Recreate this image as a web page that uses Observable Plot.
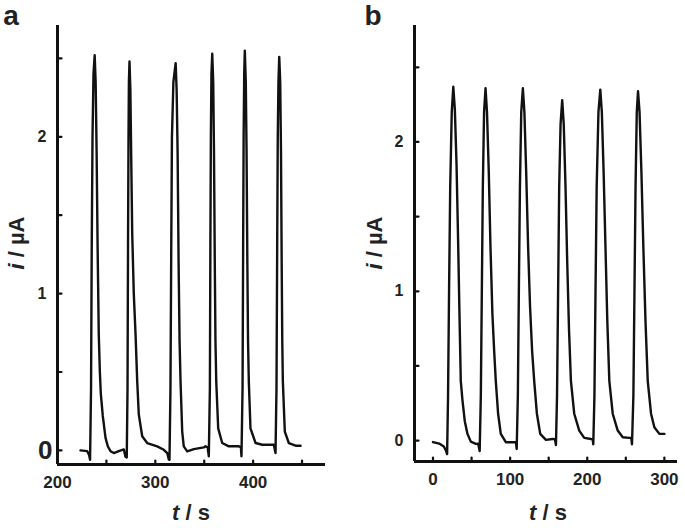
<!DOCTYPE html>
<html><head><meta charset="utf-8">
<script src="https://cdn.jsdelivr.net/npm/d3@7"></script>
<script src="https://cdn.jsdelivr.net/npm/@observablehq/plot@0.6"></script>
<style>
body{margin:0;background:#fff;}
#wrap{position:relative;width:685px;height:528px;overflow:hidden;font-family:"Liberation Sans",Arial,sans-serif;color:#222;}
.panel{position:absolute;top:0;}
.t{position:absolute;font-weight:bold;white-space:nowrap;line-height:1;color:#222;}
.c{transform:translate(-50%,-50%);}
.r{transform:translate(-50%,-50%) rotate(-90deg);}
</style></head><body><div id="wrap"></div>
<script>
// Panel a: time (s) and current (µA)
const timeA = [223.5,230.4,232.3,233.3,
 234.3,235.0,235.8,236.8,238.0,239.0,240.0,241.0,242.2,243.3,244.3,246.3,249.1,251.5,254.2,257.6,262.7,267.8,269.5,270.8,
 271.6,272.1,272.6,273.0,273.6,274.5,275.3,276.4,278.0,279.8,281.5,283.1,286.6,291.7,301.9,308.7,312.2,313.8,314.5,
 315.5,316.3,317.0,318.5,320.8,321.8,322.8,323.8,324.8,325.8,327.5,329.1,332.6,339.4,349.6,351.3,353.5,354.7,
 355.8,356.3,356.8,357.4,358.2,359.2,360.0,360.8,361.5,362.3,364.3,368.4,375.2,385.4,387.5,388.1,
 389.2,389.8,390.3,390.9,391.5,392.5,393.3,394.1,394.8,395.6,397.3,402.5,409.3,421.2,422.9,
 423.9,424.6,425.2,425.9,426.7,427.7,428.5,429.2,429.8,430.4,432.4,436.5,443.4,448.5];
const currentA = [0.00,-0.005,-0.03,-0.06,
 0.4,1.3,2.0,2.4,2.52,2.35,1.9,1.3,0.74,0.5,0.36,0.22,0.08,0.025,-0.005,-0.017,-0.005,0.006,-0.04,-0.045,
 0.4,1.3,2.0,2.35,2.48,2.3,1.9,1.38,1.0,0.74,0.44,0.23,0.09,0.047,0.026,0.004,-0.017,-0.058,-0.06,
 0.4,1.3,2.0,2.35,2.47,2.3,1.9,1.2,0.7,0.44,0.12,0.026,-0.006,0.008,0.019,0.026,0.02,-0.038,
 0.4,1.3,2.0,2.4,2.53,2.35,1.9,1.2,0.7,0.44,0.14,0.047,0.026,0.026,0.02,-0.038,
 0.4,1.3,2.0,2.4,2.55,2.35,1.9,1.2,0.7,0.44,0.14,0.047,0.036,0.036,-0.017,
 0.4,1.3,2.0,2.35,2.51,2.35,1.9,1.2,0.7,0.44,0.12,0.047,0.03,0.03];

// Panel b: time (s) and current (µA)
const timeB = [0,8,14,17,18.3,
 19.5,20.8,22.3,24.3,26.3,28.3,30.5,32.5,34.3,36.0,38.2,41.2,44.7,49,55.5,58.5,60.5,
 62.0,63.3,64.6,66.2,68.1,70.0,72.3,74.5,77,79.3,81.4,84.4,87.9,94.4,105.2,107.5,108.5,
 110.0,111.3,112.7,114.4,116.5,118.5,120.8,123.3,125.8,128.5,131.2,134.7,139,146.4,155,158,159.4,
 160.8,162.2,163.6,165.4,167.5,169.5,171.8,174.0,176.3,178.8,183.1,189.6,196.1,204.8,207,207.8,
 209.3,210.7,212.2,214.5,216.9,218.9,221.2,223.6,226,228.6,233,239.5,246,254.6,257,258,
 259.8,261.2,262.6,264.2,265.8,267.8,270.2,272.7,275.5,278.4,282.7,287,293.5,300];
const currentB = [-0.01,-0.02,-0.04,-0.07,-0.09,
 0.3,1.0,1.7,2.2,2.37,2.22,1.85,1.35,0.85,0.40,0.27,0.13,0.045,-0.007,-0.022,-0.02,-0.07,
 0.3,1.0,1.7,2.2,2.36,2.2,1.8,1.3,0.85,0.6,0.40,0.18,0.045,-0.011,-0.011,-0.01,-0.056,
 0.3,1.0,1.7,2.2,2.36,2.2,1.8,1.3,0.9,0.6,0.40,0.18,0.045,0.005,0.011,0.01,-0.03,
 0.3,1.0,1.7,2.12,2.28,2.12,1.7,1.2,0.75,0.40,0.18,0.067,0.018,0.011,0.01,-0.025,
 0.3,1.0,1.7,2.2,2.35,2.2,1.8,1.3,0.8,0.40,0.18,0.067,0.022,0.018,0.02,-0.025,
 0.3,1.0,1.7,2.2,2.34,2.2,1.8,1.3,0.8,0.40,0.18,0.089,0.045,0.045];

// Axes
const xDomainA = [200, 474];
const yDomainA = [-0.09, 2.71];
const xDomainB = [-24, 317];
const yDomainB = [-0.14, 2.78];
const xLabelTicksA = [200, 300, 400];
const xMinorTicksA = [250, 300, 350, 400, 450];
const xLabelTicksB = [0, 100, 200, 300];
const xMinorTicksB = [0, 50, 100, 150, 200, 250, 300];
const yTicks = [0, 0.5, 1, 1.5, 2, 2.5];
const yLabelTicks = [1, 2];

const ink = "#111";
const font = "Liberation Sans, Arial, sans-serif";
const fmt = d3.format("d");
const tickShape = {draw(context, l) { context.moveTo(0, 0); context.lineTo(0, -l); }};

function panel(times, currents, xd, yd, xLab, xMin, opts) {
  const data = times.map((t, k) => ({t, i: currents[k]}));
  const marks = [
    Plot.vector(xMin, {x: d => d, y: yd[0], length: 4, rotate: 0, anchor: "start", shape: tickShape, stroke: ink, strokeWidth: 2.2}),
    Plot.vector(yTicks, {x: xd[0], y: d => d, length: 4, rotate: 90, anchor: "start", shape: tickShape, stroke: ink, strokeWidth: 2.2}),
    Plot.axisX({ticks: xLab, tickSize: 0, tickPadding: 11, tickFormat: fmt, fontSize: 17, fontWeight: "bold", fill: "#222", fontFamily: font}),
    Plot.axisY({ticks: yLabelTicks, tickSize: 0, tickPadding: 11, tickFormat: fmt, fontSize: 16, fontWeight: "bold", fill: "#222", fontFamily: font}),
    opts.bigZero
      ? Plot.axisY({ticks: [0], tickSize: 0, tickPadding: 5, tickFormat: fmt, fontSize: 26, fontWeight: "bold", fill: "#222", fontFamily: font})
      : Plot.axisY({ticks: [0], tickSize: 0, tickPadding: 11, tickFormat: fmt, fontSize: 16, fontWeight: "bold", fill: "#222", fontFamily: font}),
    Plot.ruleX([xd[0]], {stroke: ink, strokeWidth: 3}),
    Plot.ruleY([yd[0]], {stroke: ink, strokeWidth: 3}),
    Plot.line(data, {x: "t", y: "i", stroke: ink, strokeWidth: 2.4, curve: "linear", strokeLinejoin: "round"})
  ];
  return Plot.plot({
    width: opts.width, height: 528,
    marginLeft: opts.ml, marginRight: opts.mr, marginTop: 25, marginBottom: opts.mb,
    x: {domain: xd, label: null},
    y: {domain: yd, label: null},
    style: {fontFamily: font, color: ink, background: "transparent", overflow: "visible"},
    marks
  });
}

const wrap = document.getElementById("wrap");
const pa = panel(timeA, currentA, xDomainA, yDomainA, xLabelTicksA, xMinorTicksA, {width: 340, ml: 57, mr: 15, mb: 64, bigZero: true});
pa.classList.add("panel"); pa.style.left = "0px";
const pb = panel(timeB, currentB, xDomainB, yDomainB, xLabelTicksB, xMinorTicksB, {width: 343, ml: 72, mr: 8, mb: 67, bigZero: false});
pb.classList.add("panel"); pb.style.left = "342px";
wrap.appendChild(pa); wrap.appendChild(pb);

function addText(html, x, y, size, cls) {
  const d = document.createElement("div");
  d.className = "t " + cls;
  d.style.left = x + "px"; d.style.top = y + "px"; d.style.fontSize = size + "px";
  d.innerHTML = html;
  wrap.appendChild(d);
}
addText("a", 11, 16, 28, "c");
addText("b", 373, 16, 28, "c");
addText("<i>i</i> / µA", 17, 243, 22, "r");
addText("<i>i</i> / µA", 375, 243, 22, "r");
addText("<i>t</i> / s", 191, 513, 22, "c");
addText("<i>t</i> / s", 548, 513, 22, "c");
</script>
</body></html>
